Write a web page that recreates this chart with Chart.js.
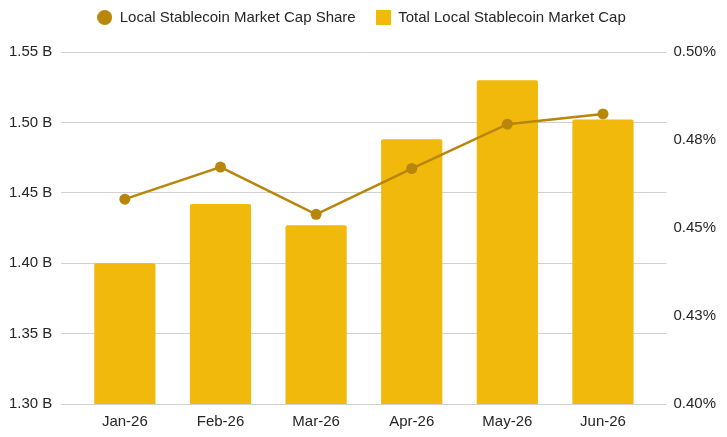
<!DOCTYPE html>
<html>
<head>
<meta charset="utf-8">
<script src="https://cdn.jsdelivr.net/npm/chart.js@4/dist/chart.umd.min.js"></script>
<style>
  body { margin: 0; background: #fff; }
  #chart { display: block; }
</style>
</head>
<body>
<canvas id="chart" width="727" height="437"></canvas>
<script>
const months = ["Jan-26", "Feb-26", "Mar-26", "Apr-26", "May-26", "Jun-26"];
// total market cap, billions
const marketCap = [1.400, 1.442, 1.427, 1.488, 1.530, 1.502];
// share, percent
const capShare = [0.4582, 0.4673, 0.4539, 0.4669, 0.4795, 0.4824];

const BAR_COLOR = "#F0B90B";
const LINE_COLOR = "#B8860B";
const TEXT_COLOR = "#262626";
const GRID_COLOR = "#d0d0d0";

Chart.defaults.font.family = "Arial, 'Liberation Sans', sans-serif";
Chart.defaults.font.size = 15;
Chart.defaults.color = TEXT_COLOR;

//legend markers are drawn as small canvases so circle and square get the same size
function makeMarker(kind, color) {
    const c = document.createElement("canvas");
    c.width = 15;
    c.height = 15;
    const g = c.getContext("2d");
    g.fillStyle = color;
    if (kind === "circle") {
        g.beginPath();
        g.arc(7.5, 7.5, 7.5, 0, Math.PI * 2);
        g.fill();
    } else {
        g.fillRect(0, 0, 15, 15);
    }
    return c;
}
const markers = [makeMarker("circle", LINE_COLOR), makeMarker("square", BAR_COLOR)];

function roundPct(v) {
    return (Math.round(v * 100 + 1e-6) / 100).toFixed(2);
}

//extra room between the legend and the plot
const legendGap = {
    id: "legendGap",
    beforeInit(chart) {
        const fit = chart.legend.fit;
        chart.legend.fit = function () {
            fit.bind(chart.legend)();
            this.height += 17;
        };
    }
};

const ctx = document.getElementById("chart").getContext("2d");
new Chart(ctx, {
    data: {
        datasets: [
            {
                type: "line",
                label: "Local Stablecoin Market Cap Share",
                data: months.map((m, i) => ({ x: i, y: capShare[i] })),
                yAxisID: "yShare",
                borderColor: LINE_COLOR,
                backgroundColor: LINE_COLOR,
                borderWidth: 2.5,
                pointRadius: 5.5,
                pointBorderWidth: 0,
                pointHoverRadius: 5.5,
                tension: 0
            },
            {
                type: "bar",
                label: "Total Local Stablecoin Market Cap",
                data: months.map((m, i) => ({ x: i, y: marketCap[i] })),
                yAxisID: "yCap",
                backgroundColor: BAR_COLOR,
                borderRadius: { topLeft: 2, topRight: 2 },
                borderSkipped: "bottom",
                categoryPercentage: 0.64,
                barPercentage: 1
            }
        ]
    },
    plugins: [legendGap],
    options: {
        responsive: false,
        animation: false,
        layout: { padding: { left: 0, right: 4, top: -10, bottom: -3 } },
        plugins: {
            tooltip: { enabled: false },
            legend: {
                position: "top",
                labels: {
                    usePointStyle: true,
                    boxWidth: 18,
                    boxHeight: 15,
                    padding: 20,
                    color: TEXT_COLOR,
                    generateLabels(chart) {
                        const items = Chart.defaults.plugins.legend.labels.generateLabels(chart);
                        items.forEach((item, i) => { item.pointStyle = markers[i]; });
                        return items;
                    }
                }
            }
        },
        scales: {
            x: {
                type: "linear",
                offset: false,
                min: -0.664,
                max: 5.664,
                grid: { display: false, drawTicks: false },
                border: { display: false },
                afterBuildTicks(scale) {
                    scale.ticks = months.map((m, i) => ({ value: i }));
                },
                ticks: {
                    padding: 9,
                    maxRotation: 0,
                    autoSkip: false,
                    callback: v => months[v]
                }
            },
            yCap: {
                position: "left",
                min: 1.30,
                max: 1.55,
                border: { display: false },
                grid: { color: GRID_COLOR, drawTicks: false },
                ticks: {
                    stepSize: 0.05,
                    padding: 9,
                    callback: v => v.toFixed(2) + " B"
                }
            },
            yShare: {
                position: "right",
                min: 0.40,
                max: 0.50,
                border: { display: false },
                grid: { display: false, drawTicks: false },
                ticks: {
                    stepSize: 0.025,
                    padding: 7,
                    callback: v => roundPct(v) + "%"
                }
            }
        }
    }
});
</script>
</body>
</html>
